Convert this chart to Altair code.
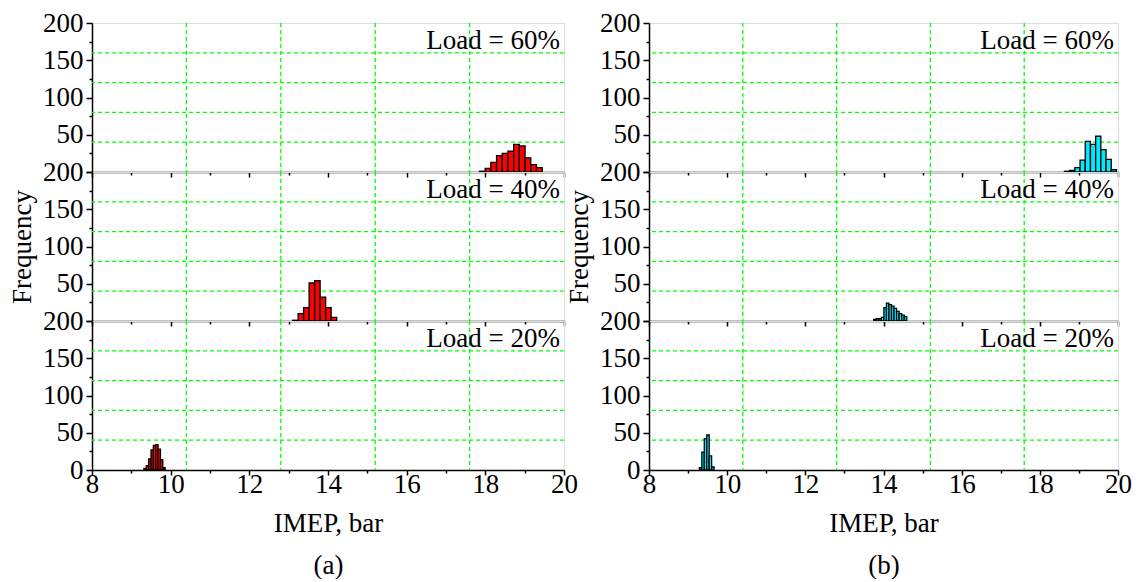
import altair as alt
import pandas as pd

# ---------------- data ----------------
# Panel (a)
a60_start, a60_width = 17.85, 0.145
a60_counts = [1, 5, 13, 22, 25, 28, 37, 35, 19, 10, 6]
a40_start, a40_width = 13.10, 0.14
a40_counts = [1, 10, 18, 51, 54, 32, 18, 5]
a20_start, a20_width = 9.32, 0.06
a20_counts = [2, 6, 15, 27, 33, 34, 28, 14, 3]

# Panel (b)
b60_start, b60_width = 18.63, 0.133
b60_counts = [1, 2, 6, 16, 41, 37, 48, 30, 17, 3]
b40_start, b40_width = 13.75, 0.065
b40_counts = [2, 3, 3, 5, 18, 24, 22, 20, 17, 13, 10, 8, 6]
b20_start, b20_width = 9.29, 0.0625
b20_counts = [3, 24, 42, 47, 19, 4]

loads = ["Load = 60%", "Load = 40%", "Load = 20%"]
x_grid = [10.4, 12.8, 15.2, 17.6]
y_grid = [40, 80, 120, 160]
x_ticks = list(range(8, 21))
y_ticks = list(range(0, 201, 25))

FONT = "Liberation Serif"
FS = 27
GREEN = "#00ff00"


def bins(start, width, counts):
    rows = []
    for i, c in enumerate(counts):
        left = start + i * width
        rows.append({"left": left, "right": left + width, "count": c, "zero": 0})
    return pd.DataFrame(rows)


xs = alt.Scale(domain=[8, 20], nice=False, zero=False)
ys = alt.Scale(domain=[0, 200], nice=False)


def panel(df, color, label, bottom, ytitle, width, xtitle):
    x_axis = alt.Axis(
        values=x_ticks,
        labels=bottom,
        labelExpr="datum.value % 2 == 0 ? datum.label : ''",
        labelFont=FONT, labelFontSize=FS, labelColor="black",
        labelFlush=False, labelOverlap=False, labelPadding=-4,
        tickSize={"condition": {"test": "datum.value % 2 == 0", "value": 5}, "value": 3},
        tickColor="black", tickWidth=1.5,
        domainColor="black", domainWidth=1.5,
        grid=False,
        title=xtitle if bottom else None,
        titleFont=FONT, titleFontSize=FS, titleFontWeight="normal", titleColor="black",
        titlePadding=13, titleLineHeight=42,
    )
    lab_expr = ("datum.value % 50 == 0 ? datum.label : ''" if bottom
                else "datum.value % 50 == 0 && datum.value > 0 ? datum.label : ''")
    y_axis = alt.Axis(
        values=y_ticks,
        labelExpr=lab_expr,
        labelFont=FONT, labelFontSize=FS, labelColor="black",
        labelFlush=False, labelOverlap=False, labelPadding=3,
        tickSize={"condition": {"test": "datum.value % 50 == 0", "value": 6}, "value": 3},
        tickColor="black", tickWidth=1.5,
        domainColor="black", domainWidth=1.5,
        grid=False,
        title="Frequency" if ytitle else None,
        titleFont=FONT, titleFontSize=FS, titleFontWeight="normal", titleColor="black",
        titlePadding=6,
    )
    vgrid = alt.Chart(pd.DataFrame({"x": x_grid})).mark_rule(
        color=GREEN, strokeDash=[4, 3], strokeWidth=1.3
    ).encode(x=alt.X("x:Q", scale=xs, axis=x_axis))
    hgrid = alt.Chart(pd.DataFrame({"y": y_grid})).mark_rule(
        color=GREEN, strokeDash=[4, 3], strokeWidth=1.3
    ).encode(y=alt.Y("y:Q", scale=ys, axis=y_axis))
    bars = alt.Chart(df).mark_rect(
        color=color, stroke="black", strokeWidth=1.3
    ).encode(
        x=alt.X("left:Q", scale=xs, axis=x_axis),
        x2="right:Q",
        y=alt.Y("count:Q", scale=ys, axis=y_axis),
        y2="zero:Q",
    )
    txt = alt.Chart(pd.DataFrame({"x": [20], "y": [200], "t": [label]})).mark_text(
        font=FONT, fontSize=FS, color="black", align="right", baseline="alphabetic",
        dx=-4, dy=26
    ).encode(
        x=alt.X("x:Q", scale=xs, axis=x_axis),
        y=alt.Y("y:Q", scale=ys, axis=y_axis),
        text="t:N",
    )
    return alt.layer(vgrid, hgrid, bars, txt).properties(width=width, height=149)


data_a = [bins(a60_start, a60_width, a60_counts),
          bins(a40_start, a40_width, a40_counts),
          bins(a20_start, a20_width, a20_counts)]
data_b = [bins(b60_start, b60_width, b60_counts),
          bins(b40_start, b40_width, b40_counts),
          bins(b20_start, b20_width, b20_counts)]

cells = []
for i in range(3):
    cells.append(panel(data_a[i], "#ff0000", loads[i], bottom=(i == 2), ytitle=(i == 1),
                       width=472, xtitle=["IMEP, bar", "(a)"]))
    cells.append(panel(data_b[i], "#00eaff", loads[i], bottom=(i == 2), ytitle=(i == 1),
                       width=469, xtitle=["IMEP, bar", "(b)"]))

chart = alt.concat(*cells, columns=2, spacing={"row": 0, "column": 85},
                   bounds="flush").properties(
    padding={"left": 0, "top": 0, "right": 0, "bottom": 0}
).configure_view(stroke="#333333", strokeWidth=1.5).configure(background="white")

chart.save("out.html", embed_options={"renderer": "svg", "actions": False})
